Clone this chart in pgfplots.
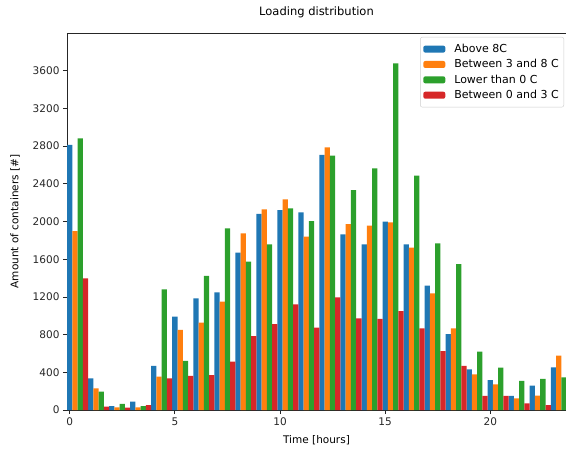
\documentclass[border=0pt]{standalone}
\usepackage{fontspec}
\setmainfont{DejaVu Sans}
\usepackage{pgfplots}
\usepackage{pgfplotstable}
\pgfplotsset{compat=1.18}
\usetikzlibrary{calc}
\definecolor{cblue}{HTML}{1F77B4}
\definecolor{corange}{HTML}{FF7F0E}
\definecolor{cgreen}{HTML}{2CA02C}
\definecolor{cred}{HTML}{D62728}

% containers per hour, one column per temperature class
\pgfplotstableread{
h  blue  orange green red
0  2812  1899   2882  1397
1  336   230    195   35
2  42    28     64    25
3  88    28     42    53
4  467   354    1280  336
5  990   849    520   361
6  1185  926    1422  371
7  1248  1149   1928  513
8  1669  1874   1574  785
9  2080  2129   1758  912
10 2122  2235   2140  1121
11 2097  1839   2005  873
12 2706  2787   2698  1196
13 1864  1973   2334  973
14 1758  1955   2564  966
15 1998  1991   3678  1050
16 1758  1722   2486  866
17 1319  1238   1769  626
18 806   866    1549  467
19 431   378    619   149
20 318   272    449   149
21 149   124    308   71
22 258   152    329   53
23 453   576    347   80
}\loading

\begin{document}
\begin{tikzpicture}
\begin{axis}[
    name=ax, scale only axis, width=499pt, height=377pt,
    xmin=-0.13, xmax=23.6, ymin=0, ymax=4000,
    axis x line*=bottom, axis y line*=left,
    axis line style={black!85, line width=0.8pt},
    tick style={black!85, line width=0.8pt},
    tick align=outside, major tick length=4pt,
    xtick={0,5,10,15,20}, ytick={0,400,...,3600},
    /pgf/number format/assume math mode=true,
    /pgf/number format/1000 sep={},
    tick label style={font=\fontsize{10.5}{12}\selectfont, black!85},
    ybar, bar width=0.25,
    every axis plot/.append style={draw=none, bar shift=0pt},
    title={Loading distribution},
    title style={at={(axis description cs:0.5,1)}, anchor=center, yshift=15pt, font=\fontsize{11.5}{13}\selectfont},
    xlabel={Time [hours]},
    every axis x label/.style={at={(axis description cs:0.5,0)}, anchor=center, yshift=-30pt, font=\fontsize{10.5}{12}\selectfont},
    ylabel={Amount of containers [\#]},
    every axis y label/.style={at={(axis description cs:0,0.5)}, anchor=center, rotate=90, yshift=52pt, font=\fontsize{10.5}{12}\selectfont},
    legend style={at={(1,1)}, anchor=north east, xshift=-2pt, yshift=-4pt,
        draw=black!20, rounded corners=2pt, fill=white,
        font=\fontsize{11}{13}\selectfont, row sep=1.5pt,
        inner xsep=3pt, inner ysep=5pt},
    legend cell align=left,
    legend image code/.code={\fill[#1] (0pt,-3.5pt) rectangle (22pt,3.5pt); \path (29pt,0pt);},
]
\addplot[fill=cblue]   table[x=h, y=blue] {\loading};
\addplot[fill=corange] table[x expr=\thisrow{h}+0.25, y=orange] {\loading};
\addplot[fill=cgreen]  table[x expr=\thisrow{h}+0.5, y=green] {\loading};
\addplot[fill=cred]    table[x expr=\thisrow{h}+0.75, y=red] {\loading};
\legend{Above 8C, Between 3 and 8 C, Lower than 0 C, Between 0 and 3 C}
\draw[black!85, line width=0.8pt] (rel axis cs:0,1) -- (rel axis cs:1,1);
\end{axis}
\pgfresetboundingbox
\path[use as bounding box] ($(ax.south west)+(-67pt,-39pt)$) rectangle ($(ax.north east)+(0pt,33pt)$);
\end{tikzpicture}
\end{document}
